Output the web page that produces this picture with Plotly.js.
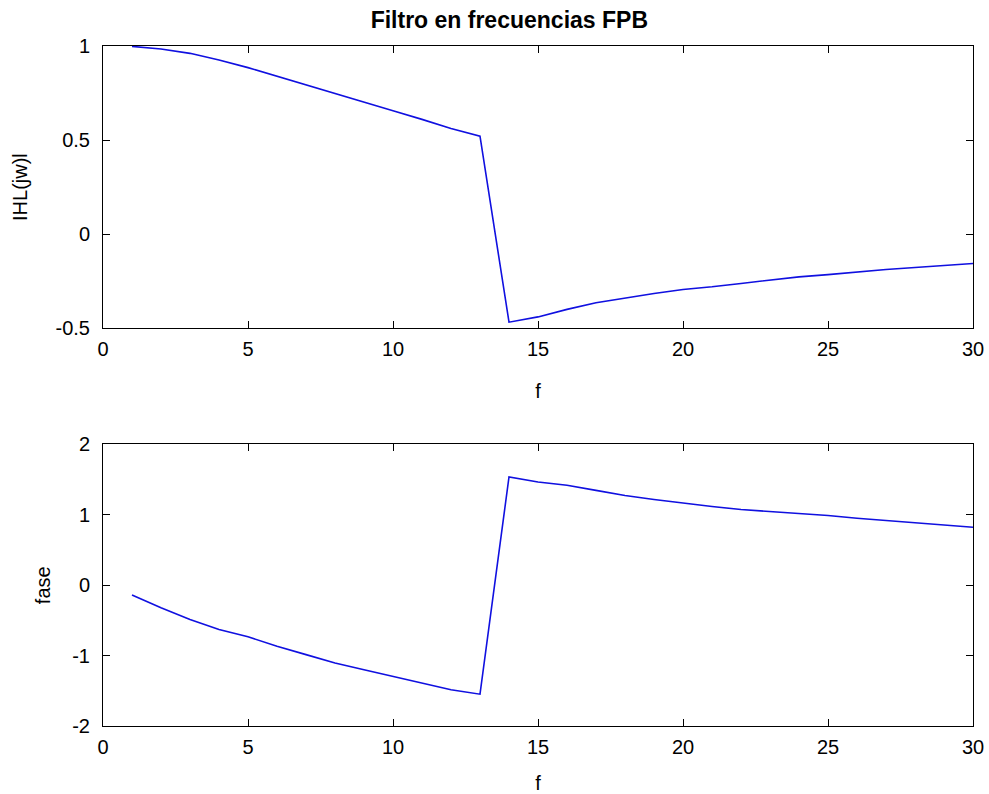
<!DOCTYPE html>
<html>
<head>
<meta charset="utf-8">
<script src="https://cdn.plot.ly/plotly-3.0.1.min.js"></script>
<style>html,body{margin:0;padding:0;background:#fff;}#chart{width:989px;height:794px;}</style>
</head>
<body>
<div id="chart"></div>
<script>
const freq = [1,2,3,4,5,6,7,8,9,10,11,12,13,14,15,16,17,18,19,20,21,22,23,24,25,26,27,28,29,30];
const magnitude = [0.998,0.984,0.961,0.926,0.885,0.840,0.793,0.748,0.704,0.656,0.610,0.562,0.521,
  -0.468,-0.440,-0.400,-0.365,-0.339,-0.316,-0.294,-0.280,-0.262,-0.245,-0.227,-0.215,-0.200,-0.188,-0.177,-0.167,-0.156];
const phase = [-0.138,-0.32,-0.486,-0.63,-0.733,-0.867,-0.986,-1.105,-1.2,-1.295,-1.39,-1.486,-1.548,
  1.538,1.467,1.42,1.348,1.276,1.219,1.167,1.119,1.076,1.048,1.024,0.990,0.952,0.919,0.886,0.857,0.824];
const xTicks = [0,5,10,15,20,25,30];
const magTicks = [-0.5,0,0.5,1];
const magTickText = ['-0.5','0','0.5','1'];
const phaseTicks = [-2,-1,0,1,2];

const FONT = 'Liberation Sans, Arial, sans-serif';
const lineStyle = {color:'#1010e0', width:1.6};

const traces = [
  {x:freq, y:magnitude, type:'scatter', mode:'lines', line:lineStyle, xaxis:'x', yaxis:'y', hoverinfo:'skip'},
  {x:freq, y:phase, type:'scatter', mode:'lines', line:lineStyle, xaxis:'x2', yaxis:'y2', hoverinfo:'skip'}
];

function xa(anchor){
  return {anchor:anchor, range:[0,30], tickvals:xTicks, ticks:'inside', ticklen:7, tickcolor:'#000',
    showline:true, linecolor:'#000', linewidth:1, mirror:'ticks', showgrid:false, zeroline:false,
    tickfont:{family:FONT, size:20, color:'#000'}, ticklabelstandoff:3, automargin:false,
    title:{text:'f', font:{family:FONT, size:20, color:'#000'}}};
}
function ya(anchor, range, vals, text, title, standoff){
  return {anchor:anchor, range:range, tickvals:vals, ticktext:text, ticks:'inside', ticklen:7, tickcolor:'#000',
    showline:true, linecolor:'#000', linewidth:1, mirror:'ticks', showgrid:false, zeroline:false,
    tickfont:{family:FONT, size:20, color:'#000'}, ticklabelstandoff:8, automargin:true,
    title:{text:title, font:{family:FONT, size:20, color:'#000'}, standoff:standoff}};
}

const layout = {
  width:989, height:794,
  margin:{l:103, r:16, t:46, b:68},
  paper_bgcolor:'#fff', plot_bgcolor:'#fff',
  showlegend:false,
  title:{text:'<b>Filtro en frecuencias FPB</b>', x:0.515, xanchor:'center', y:0.975, yanchor:'middle',
    font:{family:FONT, size:23, color:'#000'}},
  xaxis: Object.assign(xa('y'), {domain:[0,1]}),
  yaxis: Object.assign(ya('x', [-0.5,1], magTicks, magTickText, 'IHL(jw)l', 22), {domain:[0.585,1]}),
  xaxis2: Object.assign(xa('y2'), {domain:[0,1]}),
  yaxis2: Object.assign(ya('x2', [-2,2], phaseTicks, phaseTicks.map(String), 'fase', 16), {domain:[0,0.414]})
};

Plotly.newPlot('chart', traces, layout, {staticPlot:true, displayModeBar:false});
</script>
</body>
</html>
